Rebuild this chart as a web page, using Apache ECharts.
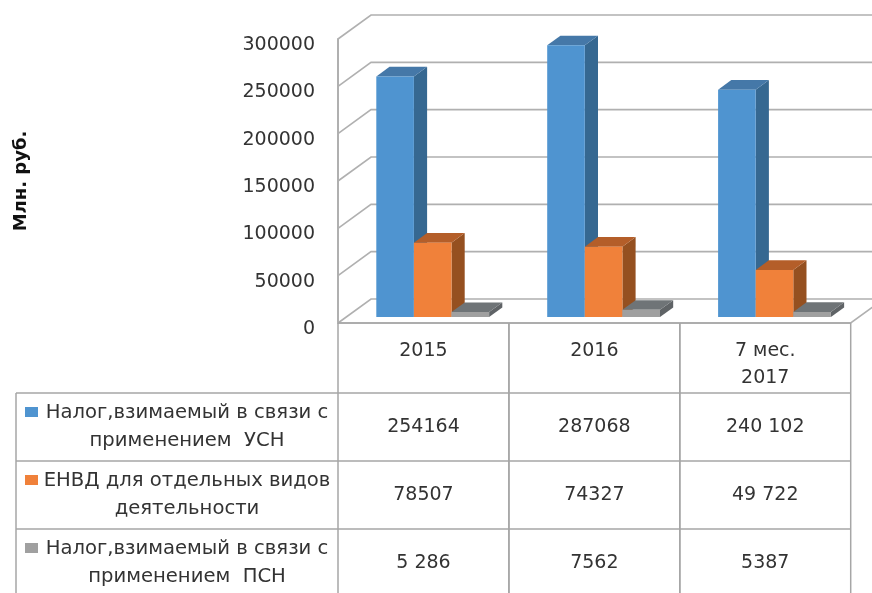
<!DOCTYPE html>
<html><head><meta charset="utf-8">
<script src="https://cdn.jsdelivr.net/npm/echarts@6/dist/echarts.min.js"></script>
<style>html,body{margin:0;padding:0;background:#fff}#c{width:872px;height:593px}</style>
</head><body><div id="c"></div>
<script>
// ---- data ----
const categories = ['2015', '2016', '7 мес.\n2017'];
const usn = [254164, 287068, 240102];
const envd = [78507, 74327, 49722];
const psn = [5286, 7562, 5387];
const usnText = ['254164', '287068', '240 102'];
const envdText = ['78507', '74327', '49 722'];
const psnText = ['5 286', '7562', '5387'];
const seriesNames = [
  'Налог,взимаемый в связи с\nприменением  УСН',
  'ЕНВД для отдельных видов\nдеятельности',
  'Налог,взимаемый в связи с\nприменением  ПСН'
];
const yTicks = [0, 50000, 100000, 150000, 200000, 250000, 300000];
const yAxisName = 'Млн. руб.';

// ---- layout / style constants ----
const FONT = 'DejaVu Sans';
const TXT = '#333333';
const DX = 33, DY = -24;          // full depth of the 3D box
const BAR_FRONT = 0.25, BAR_DEPTH = 0.4;
const BW = 37.6;
const FRAME = '#b0b0b0';
const TLINE = '#a6a6a6';
const HEADER_TOP = 323;
const ROW_BOUNDS = [393, 461, 529, 597];
const palettes = [
  {front: '#4f94d0', side: '#366891', top: '#4578a8'},
  {front: '#f0813a', side: '#955020', top: '#b45e29'},
  {front: '#a0a0a0', side: '#5f6366', top: '#6f7477'}
];
const tableTexts = [usnText, envdText, psnText];
const seriesValues = [usn, envd, psn];

function barRender(s) {
  const pal = palettes[s];
  return function (params, api) {
    const ci = api.value(0), v = api.value(1);
    const base = api.coord([ci, 0]);
    const top = api.coord([ci, v]);
    const fx = DX * BAR_FRONT, fy = DY * BAR_FRONT;
    const ddx = DX * BAR_DEPTH, ddy = DY * BAR_DEPTH;
    const x0 = base[0] + 1 - 1.5 * BW + s * BW + fx;
    const x1 = x0 + BW;
    const yb = base[1] + fy, yt = top[1] + fy;
    return {
      type: 'group',
      children: [
        {type: 'polygon', shape: {points: [[x1, yb], [x1, yt], [x1 + ddx, yt + ddy], [x1 + ddx, yb + ddy]]},
          style: {fill: pal.side}},
        {type: 'polygon', shape: {points: [[x0, yt], [x1, yt], [x1 + ddx, yt + ddy], [x0 + ddx, yt + ddy]]},
          style: {fill: pal.top}},
        {type: 'rect', shape: {x: x0, y: yt, width: BW, height: yb - yt}, style: {fill: pal.front}}
      ]
    };
  };
}

function frameRender(params, api) {
  const t = api.value(0);
  const band = api.size([1, 0])[0];
  const p = api.coord([0, t]);
  const left = p[0] - band / 2;
  const right = api.coord([categories.length - 1, t])[0] + band / 2;
  const y = p[1];
  const children = [
    {type: 'polyline', shape: {points: [[left, y], [left + DX, y + DY], [right + DX, y + DY]]},
      style: {stroke: FRAME, lineWidth: 1.6, fill: null}}
  ];
  if (t === 0) {
    children.push({type: 'polyline', shape: {points: [[left, y], [right, y], [right + DX, y + DY], [right + DX, y + DY - 400]]},
      style: {stroke: FRAME, lineWidth: 1.6, fill: null}});
  }
  return {type: 'group', children};
}

function tableRender(params, api) {
  const ci = api.value(0);
  const band = api.size([1, 0])[0];
  const cx = api.coord([ci, 0])[0];
  const l = cx - band / 2, r = cx + band / 2;
  const ln = (pts) => ({type: 'polyline', shape: {points: pts}, style: {stroke: TLINE, lineWidth: 1.5, fill: null}});
  const children = [ln([[l, HEADER_TOP], [l, 600]]), ln([[r, HEADER_TOP], [r, 600]])];
  [HEADER_TOP, ROW_BOUNDS[0], ROW_BOUNDS[1], ROW_BOUNDS[2]].forEach(y => children.push(ln([[l, y], [r, y]])));
  for (let s = 0; s < 3; s++) {
    children.push({type: 'text', x: cx, y: (ROW_BOUNDS[s] + ROW_BOUNDS[s + 1]) / 2,
      style: {text: tableTexts[s][ci], fontFamily: FONT, fontSize: 19, fill: TXT,
        align: 'center', verticalAlign: 'middle', textAlign: 'center', textVerticalAlign: 'middle'}});
  }
  return {type: 'group', children};
}

const legendGraphics = [];
legendGraphics.push({type: 'polyline', shape: {points: [[16, ROW_BOUNDS[0]], [16, 600]]}, style: {stroke: TLINE, lineWidth: 1.5, fill: null}});
for (let s = 0; s < 3; s++) {
  legendGraphics.push({type: 'polyline', shape: {points: [[16, ROW_BOUNDS[s]], [338, ROW_BOUNDS[s]]]}, style: {stroke: TLINE, lineWidth: 1.5, fill: null}});
  const yc = (ROW_BOUNDS[s] + ROW_BOUNDS[s + 1]) / 2;
  legendGraphics.push({type: 'rect', shape: {x: 25, y: yc - 20, width: 13, height: 10}, style: {fill: palettes[s].front}});
  legendGraphics.push({type: 'text', x: 187, y: yc,
    style: {text: seriesNames[s], fontFamily: FONT, fontSize: 19.6, lineHeight: 28.5, fill: TXT,
      align: 'center', verticalAlign: 'middle', textAlign: 'center', textVerticalAlign: 'middle'}});
}

const chart = echarts.init(document.getElementById('c'), null, {renderer: 'canvas'});
chart.setOption({
  animation: false,
  backgroundColor: '#fff',
  grid: {left: 338, top: 39, width: 512.7, height: 284, containLabel: false},
  xAxis: {
    type: 'category', data: categories,
    axisLine: {show: false}, axisTick: {show: false}, splitLine: {show: false},
    axisLabel: {margin: 14.5, fontFamily: FONT, fontSize: 19, lineHeight: 27, color: TXT, verticalAlign: 'top', interval: 0}
  },
  yAxis: {
    type: 'value', min: 0, max: 300000, interval: 50000,
    name: yAxisName, nameLocation: 'middle', nameRotate: 90, nameGap: 308,
    nameTextStyle: {fontFamily: FONT, fontSize: 18, fontWeight: 'bold', color: '#111'},
    axisLine: {show: true, lineStyle: {color: FRAME, width: 2}},
    axisTick: {show: false}, splitLine: {show: false},
    axisLabel: {margin: 23, fontFamily: FONT, fontSize: 19, color: TXT,
      formatter: (v) => '{v|' + v + '}',
      rich: {v: {fontFamily: FONT, fontSize: 19, color: TXT, padding: [12, 0, 0, 0]}}}
  },
  graphic: legendGraphics,
  series: [
    {type: 'custom', name: 'frame', z: 1, clip: false, renderItem: frameRender, data: yTicks.map(t => [t]), silent: true,
      coordinateSystem: 'cartesian2d', encode: {y: 0}},
    ...seriesValues.map((vals, s) => ({
      type: 'custom', name: seriesNames[s], z: 2 + s, clip: false, renderItem: barRender(s),
      data: vals.map((v, i) => [i, v]), encode: {x: 0, y: 1}
    })),
    {type: 'custom', name: 'table', z: 5, clip: false, renderItem: tableRender, data: categories.map((c, i) => [i]), encode: {x: 0}, silent: true}
  ]
});
</script>
</body></html>
